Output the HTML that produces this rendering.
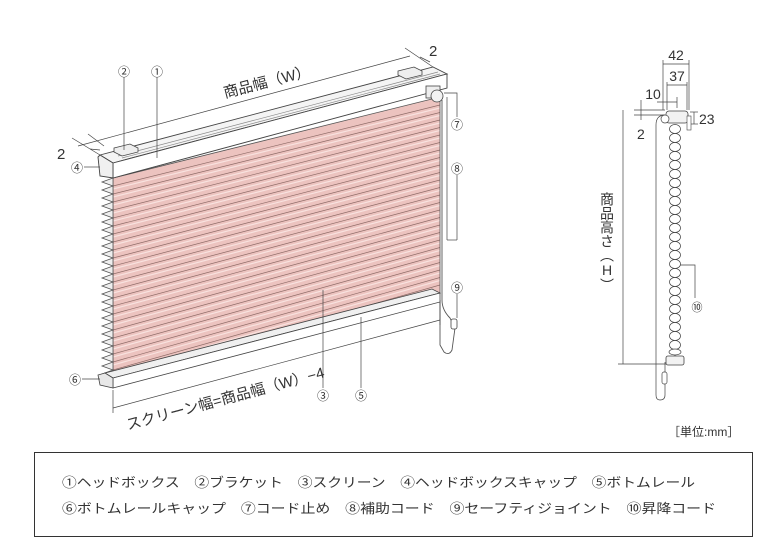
<!DOCTYPE html>
<html><head><meta charset="utf-8"><style>
html,body{margin:0;padding:0;background:#fff}
svg{display:block}
text{font-family:"Liberation Sans","Noto Sans CJK JP",sans-serif;fill:#333}
</style></head><body>
<svg width="780" height="550" viewBox="0 0 780 550" xmlns="http://www.w3.org/2000/svg">
<defs>
<clipPath id="scr"><polygon points="113,178 440,97 440,293 113,378"/></clipPath>
</defs>
<polygon points="113,178 440,97 440,293 113,378" fill="#ecc3bf"/>
<g clip-path="url(#scr)" fill="none">
<path stroke="#8e6b67" stroke-width="0.7" d="
M113,186 L440,105 M113,194 L440,112.5 M113,202 L440,120 M113,210 L440,127.5 M113,218 L440,135
M113,226 L440,142.5 M113,234 L440,150 M113,242 L440,157.5 M113,250 L440,165 M113,258 L440,172.5
M113,266 L440,180 M113,274 L440,187.5 M113,282 L440,195 M113,290 L440,202.5 M113,298 L440,210
M113,306 L440,217.5 M113,314 L440,225 M113,322 L440,232.5 M113,330 L440,240 M113,338 L440,247.5
M113,346 L440,255 M113,354 L440,262.5 M113,362 L440,270 M113,370 L440,277.5 M113,378 L440,285"/>
<path stroke="#f8e2df" stroke-width="1.2" d="
M113,189 L440,108 M113,197 L440,115.5 M113,205 L440,123 M113,213 L440,130.5 M113,221 L440,138
M113,229 L440,145.5 M113,237 L440,153 M113,245 L440,160.5 M113,253 L440,168 M113,261 L440,175.5
M113,269 L440,183 M113,277 L440,190.5 M113,285 L440,198 M113,293 L440,205.5 M113,301 L440,213
M113,309 L440,220.5 M113,317 L440,228 M113,325 L440,235.5 M113,333 L440,243 M113,341 L440,250.5
M113,349 L440,258 M113,357 L440,265.5 M113,365 L440,273 M113,373 L440,280.5"/>
</g>
<polygon points="113,178 440,97 440,293 113,378" fill="none" stroke="#555" stroke-width="0.8"/>
<path fill="#eee" stroke="#555" stroke-width="0.8" d="M113,178 L102,182 L113,186 L102,190 L113,194 L102,198 L113,202 L102,206 L113,210 L102,214 L113,218 L102,222 L113,226 L102,230 L113,234 L102,238 L113,242 L102,246 L113,250 L102,254 L113,258 L102,262 L113,266 L102,270 L113,274 L102,278 L113,282 L102,286 L113,290 L102,294 L113,298 L102,302 L113,306 L102,310 L113,314 L102,318 L113,322 L102,326 L113,330 L102,334 L113,338 L102,342 L113,346 L102,350 L113,354 L102,358 L113,362 L102,366 L113,370 L102,374 L113,378 Z"/>
<polygon points="100,155 433,67 447,74 113,163" fill="#f4f4f4" stroke="#444" stroke-width="0.9"/>
<path d="M118,156 L438,72 M122,158 L440,74" stroke="#888" stroke-width="0.7" fill="none"/>
<polygon points="113,163 447,74 447,88 113,178" fill="#fff" stroke="#444" stroke-width="0.9"/>
<polygon points="98,157 100,155 113,163 113,178 100,176" fill="#f0f0f0" stroke="#444" stroke-width="0.9"/>
<polygon points="114,148 130,144 138,148 138,152 122,156 114,152" fill="#eee" stroke="#444" stroke-width="0.8"/>
<polygon points="398,71 414,67 422,71 422,75 406,79 398,75" fill="#eee" stroke="#444" stroke-width="0.8"/>
<rect x="426" y="86" width="14" height="12" fill="#eee" stroke="#444" stroke-width="0.8"/>
<circle cx="437" cy="96" r="6" fill="#f2f2f2" stroke="#444" stroke-width="0.8"/>
<path d="M442,100 L442,300 Q442,310 450,318 L455,328 L452,350 Q449,356 444,352 L440,345 L440,300" fill="none" stroke="#555" stroke-width="0.9"/>
<rect x="451" y="319" width="6" height="10" rx="2" fill="#fff" stroke="#444" stroke-width="0.8"/>
<polygon points="105,373 432,289 440,293 113,378" fill="#f0f0f0" stroke="#444" stroke-width="0.8"/>
<polygon points="113,378 440,293 440,302 113,388" fill="#fff" stroke="#444" stroke-width="0.8"/>
<polygon points="98,375 105,373 113,378 113,388 100,385" fill="#e8e8e8" stroke="#444" stroke-width="0.8"/>
<g stroke="#444" stroke-width="0.7" fill="none">
<line x1="78" y1="146" x2="410" y2="56"/>
<line x1="72" y1="138" x2="100" y2="155"/>
<line x1="88" y1="134" x2="104" y2="146"/>
<line x1="405" y1="48" x2="433" y2="67"/>
<line x1="420" y1="57" x2="430" y2="62"/>
<line x1="90" y1="149" x2="100" y2="150"/>
<line x1="113" y1="390" x2="113" y2="413"/>
<line x1="440" y1="302" x2="440" y2="325"/>
<line x1="113" y1="408" x2="440" y2="320"/>
<line x1="124" y1="77" x2="124" y2="150"/>
<line x1="157" y1="77" x2="157" y2="158"/>
<line x1="84" y1="167" x2="100" y2="167"/>
<polyline points="444,93 457,93 457,117"/>
<polyline points="447,97 447,240"/>
<line x1="457" y1="175" x2="457" y2="240"/>
<line x1="447" y1="240" x2="457" y2="240"/>
<line x1="457" y1="294" x2="457" y2="318"/>
<line x1="323" y1="290" x2="323" y2="388"/>
<line x1="361" y1="317" x2="361" y2="388"/>
<line x1="82" y1="379" x2="100" y2="379"/>
</g>
<text x="57" y="159" font-size="15">2</text>
<text x="429" y="56" font-size="15">2</text>
<text transform="translate(225,98) rotate(-14.5)" font-size="15">商品幅（W）</text>
<text transform="translate(128,430) rotate(-15)" font-size="15">スクリーン幅=商品幅（W）−4</text>
<g font-size="12" text-anchor="middle">
<text x="124" y="76">②</text><text x="157" y="76">①</text>
<text x="77" y="172">④</text><text x="457" y="129">⑦</text>
<text x="457" y="173">⑧</text><text x="457" y="292">⑨</text>
<text x="323" y="400">③</text><text x="361" y="400">⑤</text>
<text x="75" y="384">⑥</text>
</g>
<g stroke="#444" stroke-width="0.7" fill="none">
<line x1="663" y1="64" x2="689" y2="64"/>
<line x1="667" y1="85" x2="687" y2="85"/>
<line x1="663" y1="60" x2="663" y2="110"/>
<line x1="689" y1="60" x2="689" y2="110"/>
<line x1="667" y1="82" x2="667" y2="110"/>
<line x1="687" y1="82" x2="687" y2="110"/>
<line x1="657" y1="102" x2="677" y2="102"/>
<line x1="677" y1="97" x2="677" y2="108"/>
<line x1="641" y1="100" x2="641" y2="120"/>
<line x1="634" y1="110" x2="665" y2="110"/>
<line x1="634" y1="115" x2="665" y2="115"/>
<line x1="694" y1="112" x2="694" y2="124"/>
<line x1="690" y1="112" x2="698" y2="112"/>
<line x1="690" y1="124" x2="698" y2="124"/>
<line x1="623" y1="110" x2="623" y2="364"/>
<line x1="618" y1="364" x2="668" y2="364"/>
<polyline points="677,265 695,265 695,298"/>
<path d="M665,115 Q656,115 656,125 L656,395 Q656,400 660,400 Q665,400 665,395 L665,362"/>
</g>
<rect x="666" y="111" width="22" height="12" rx="3" fill="#f2f2f2" stroke="#444" stroke-width="0.8"/>
<circle cx="665" cy="119" r="4" fill="#fff" stroke="#444" stroke-width="0.7"/>
<rect x="687" y="116" width="4" height="14" fill="#fff" stroke="#444" stroke-width="0.6"/>
<g fill="#fff" stroke="#444" stroke-width="0.7">
<path d="M675,125 L675,356" fill="none"/>
<ellipse cx="675" cy="129" rx="5.5" ry="4.5"/><ellipse cx="675" cy="138" rx="5.5" ry="4.5"/><ellipse cx="675" cy="147" rx="5.5" ry="4.5"/><ellipse cx="675" cy="156" rx="5.5" ry="4.5"/><ellipse cx="675" cy="165" rx="5.5" ry="4.5"/><ellipse cx="675" cy="174" rx="5.5" ry="4.5"/><ellipse cx="675" cy="183" rx="5.5" ry="4.5"/><ellipse cx="675" cy="192" rx="5.5" ry="4.5"/><ellipse cx="675" cy="201" rx="5.5" ry="4.5"/><ellipse cx="675" cy="210" rx="5.5" ry="4.5"/><ellipse cx="675" cy="219" rx="5.5" ry="4.5"/><ellipse cx="675" cy="228" rx="5.5" ry="4.5"/><ellipse cx="675" cy="237" rx="5.5" ry="4.5"/><ellipse cx="675" cy="246" rx="5.5" ry="4.5"/><ellipse cx="675" cy="255" rx="5.5" ry="4.5"/><ellipse cx="675" cy="264" rx="5.5" ry="4.5"/><ellipse cx="675" cy="273" rx="5.5" ry="4.5"/><ellipse cx="675" cy="282" rx="5.5" ry="4.5"/><ellipse cx="675" cy="291" rx="5.5" ry="4.5"/><ellipse cx="675" cy="300" rx="5.5" ry="4.5"/><ellipse cx="675" cy="309" rx="5.5" ry="4.5"/><ellipse cx="675" cy="318" rx="5.5" ry="4.5"/><ellipse cx="675" cy="327" rx="5.5" ry="4.5"/><ellipse cx="675" cy="336" rx="5.5" ry="4.5"/><ellipse cx="675" cy="345" rx="5.5" ry="4.5"/><ellipse cx="675" cy="352" rx="6" ry="3"/>
</g>
<rect x="666" y="356" width="18" height="9" rx="2" fill="#f2f2f2" stroke="#444" stroke-width="0.8"/>
<rect x="662" y="372" width="5" height="12" rx="2" fill="#fff" stroke="#444" stroke-width="0.7"/>
<text x="676" y="60" font-size="14" text-anchor="middle">42</text>
<text x="677" y="81" font-size="14" text-anchor="middle">37</text>
<text x="653" y="99" font-size="14" text-anchor="middle">10</text>
<text x="637" y="139" font-size="14">2</text>
<text x="699" y="124" font-size="14">23</text>
<text x="697" y="311" font-size="11" text-anchor="middle">⑩</text>
<text x="607" y="192" font-size="14" style="writing-mode:vertical-rl;text-orientation:upright">商品高さ（H）</text>
<text x="668" y="436" font-size="12">［単位:mm］</text>
<rect x="34.5" y="452.5" width="718" height="84" fill="none" stroke="#333" stroke-width="1"/>
<text x="62" y="487" font-size="13" textLength="633" lengthAdjust="spacingAndGlyphs">①ヘッドボックス　②ブラケット　③スクリーン　④ヘッドボックスキャップ　⑤ボトムレール</text>
<text x="62" y="513" font-size="13" textLength="654" lengthAdjust="spacingAndGlyphs">⑥ボトムレールキャップ　⑦コード止め　⑧補助コード　⑨セーフティジョイント　⑩昇降コード</text>
</svg>
</body></html>
